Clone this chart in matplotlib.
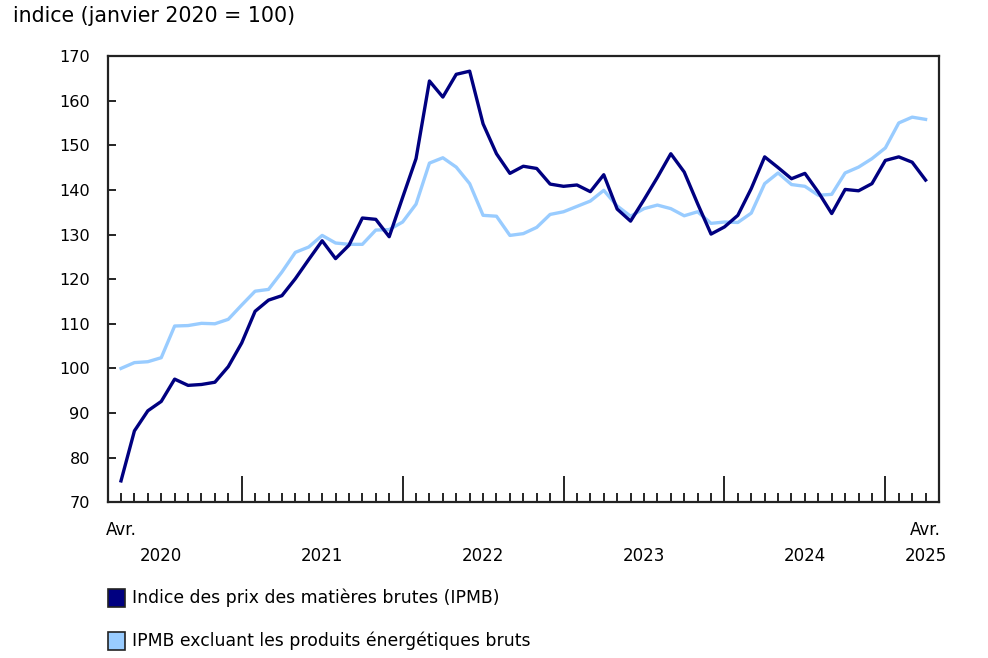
import numpy as np
import pandas as pd
import matplotlib
matplotlib.use("Agg")
import matplotlib.pyplot as plt
from matplotlib.patches import Rectangle

# mois d'avril 2020 à avril 2025
months = pd.period_range("2020-04", "2025-04", freq="M")

ipmb = [74.8, 86.0, 90.5, 92.6, 97.6, 96.2, 96.4, 96.9, 100.4, 105.7, 112.8,
        115.3, 116.3, 120.1, 124.4, 128.6, 124.6, 127.6, 133.7, 133.4, 129.5,
        138.3, 147.0, 164.4, 160.8, 165.9, 166.6, 154.8, 148.1, 143.7, 145.3,
        144.8, 141.3, 140.8, 141.1, 139.6, 143.4, 135.7, 133.0, 137.8, 142.8,
        148.1, 144.0, 136.9, 130.1, 131.7, 134.3, 140.3, 147.4, 145.0, 142.5,
        143.7, 139.5, 134.7, 140.1, 139.8, 141.4, 146.6, 147.4, 146.2, 142.2]

ipmb_hors_energie = [100.0, 101.3, 101.5, 102.4, 109.5, 109.6, 110.1, 110.0, 111.0,
                     114.2, 117.3, 117.7, 121.6, 126.0, 127.2, 129.8, 128.1, 127.8,
                     127.8, 131.0, 131.1, 132.8, 136.8, 146.0, 147.2, 145.1, 141.4,
                     134.3, 134.1, 129.8, 130.2, 131.6, 134.5, 135.1, 136.3, 137.5,
                     139.9, 136.4, 134.1, 135.8, 136.6, 135.8, 134.2, 135.1, 132.5,
                     132.8, 132.7, 134.8, 141.4, 143.8, 141.2, 140.8, 138.8, 139.0,
                     143.8, 145.1, 147.0, 149.4, 155.0, 156.3, 155.8]

series_labels = ["Indice des prix des matières brutes (IPMB)",
                 "IPMB excluant les produits énergétiques bruts"]
series_colors = ["#000080", "#99ccff"]
yticks = list(range(70, 171, 10))
year_labels = ["2020", "2021", "2022", "2023", "2024"]
month_label = "Avr."
title = "indice (janvier 2020 = 100)"

plt.rcParams["font.family"] = ["DejaVu Sans"]

fig = plt.figure(figsize=(9.88, 6.58), dpi=100)
ax = fig.add_axes([108 / 988, 1 - 502.3 / 658, (939 - 108) / 988, (502.3 - 56) / 658])

x = np.arange(len(months))
ax.plot(x, ipmb_hors_energie, color=series_colors[1], lw=2.4)
ax.plot(x, ipmb, color=series_colors[0], lw=2.4)

ax.set_xlim(-0.97, 61.0)
ax.set_ylim(70, 170)
ax.set_yticks(yticks)
ax.tick_params(axis="y", direction="in", length=6, width=1.2, pad=13, labelsize=11.6)

is_jan = np.array([m.month == 1 for m in months])
ax.set_xticks(x[is_jan])
ax.set_xticks(x[~is_jan], minor=True)
ax.set_xticklabels([])
ax.tick_params(axis="x", which="major", direction="in", length=19, width=1.2)
ax.tick_params(axis="x", which="minor", direction="in", length=6.5, width=1.2)

for s in ax.spines.values():
    s.set_linewidth(1.6)
    s.set_color("#222222")

# étiquettes de l'axe des x
trans = ax.get_xaxis_transform()
ax.text(0, -0.062, month_label, transform=trans, ha="center", va="center", fontsize=12)
ax.text(len(months) - 1, -0.062, month_label, transform=trans, ha="center", va="center", fontsize=12)
for k, lab in enumerate(year_labels):
    ax.text(3 + 12 * k, -0.12, lab, transform=trans, ha="center", va="center", fontsize=12)
ax.text(len(months) - 1, -0.12, str(months[-1].year), transform=trans,
        ha="center", va="center", fontsize=12)

fig.text(13 / 988, 1 - 16 / 658, title, ha="left", va="center", fontsize=14.8)

# légende
for k, (lab, col) in enumerate(zip(series_labels, series_colors)):
    yc = 1 - (598 + 43 * k) / 658
    fig.add_artist(Rectangle((108 / 988, yc - 9 / 658), 17 / 988, 18 / 658,
                             transform=fig.transFigure, facecolor=col,
                             edgecolor="#222222", lw=1.2))
    fig.text(132 / 988, yc, lab, ha="left", va="center", fontsize=12.4)

fig.savefig("out.png", dpi=100)
